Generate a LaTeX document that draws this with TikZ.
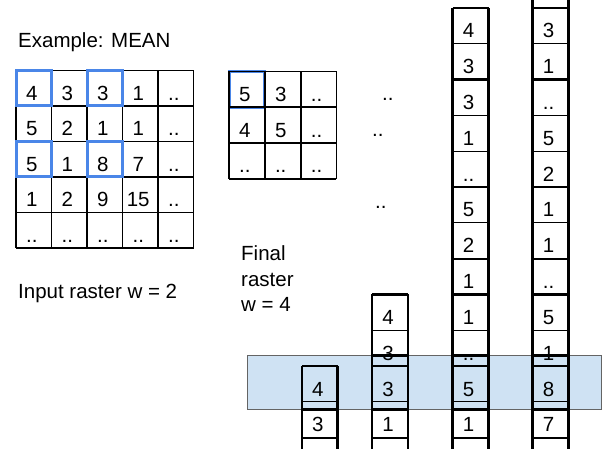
\documentclass[tikz,border=0pt]{standalone}
\usepackage{fontspec}
\setmainfont{Liberation Sans}
\definecolor{hl}{RGB}{74,134,232}
\definecolor{bandfill}{RGB}{207,226,243}
\definecolor{bandline}{RGB}{100,100,100}
\begin{document}
\begin{tikzpicture}[x=1pt,y=-1pt,
  txt/.style={font=\fontsize{20.5}{24}\selectfont, inner sep=0pt, anchor=base},
  lbl/.style={txt, anchor=base west},
  gridline/.style={line width=1.8pt, black},
  vline/.style={line width=2.2pt, black},
  thickh/.style={line width=2.2pt, black},
  thinh/.style={line width=1pt, black},
  hlbox/.style={draw=hl, line width=3pt},
  bandbox/.style={fill=bandfill, draw=bandline, line width=0.8pt}]
\useasboundingbox (0,0) rectangle (605,449);

% labels
\node[lbl] (title) at (18,48) {Example: MEAN};
\node[lbl] (inlabel) at (18,298) {Input raster w = 2};
\node[lbl] (fin1) at (241,261) {Final};
\node[lbl] (fin2) at (241,286) {raster};
\node[lbl] (fin3) at (241,311) {w = 4};

% ---------- input raster 5x5 ----------
\foreach \i in {0,...,5} {
  \draw[gridline] (16+35.5*\i,70.5) -- (16+35.5*\i,248);
  \draw[gridline] (16,70.5+35.5*\i) -- (193.5,70.5+35.5*\i);
}
\foreach \r/\row in {0/{4,3,3,1,..},1/{5,2,1,1,..},2/{5,1,8,7,..},3/{1,2,9,15,..},4/{..,..,..,..,..}} {
  \foreach \v [count=\c from 0] in \row {
    \node[txt] (in-\r-\c) at (16+35.5*\c+15.75,70.5+35.5*\r+30) {\v};
  }
}
\foreach \r/\c in {0/0,0/2,2/0,2/2} {
  \draw[hlbox] (16+35.5*\c,70.5+35.5*\r) rectangle +(35.5,35.5);
}

% ---------- intermediate 3x3 ----------
\draw[hlbox] (229,71.5) rectangle +(35.8,35.8);
\foreach \i in {0,...,3} {
  \draw[gridline] (229+35.8*\i,71.5) -- (229+35.8*\i,178.9);
  \draw[gridline] (229,71.5+35.8*\i) -- (336.4,71.5+35.8*\i);
}
\foreach \r/\row in {0/{5,3,..},1/{4,5,..},2/{..,..,..}} {
  \foreach \v [count=\c from 0] in \row {
    \node[txt] (mid-\r-\c) at (229+35.8*\c+15.9,71.5+35.8*\r+29.8) {\v};
  }
}
\node[lbl] (dots1) at (382,101) {..};
\node[lbl] (dots2) at (372,137) {..};
\node[lbl] (dots3) at (375,209) {..};

% ---------- highlight band ----------
\draw[bandbox] (247,355.5) rectangle (601,409.5);

% ---------- stacks ----------
% stack A (x 302..337.5), cells k=10,11, open below
\draw[vline] (302,366) -- (302,450);
\draw[vline] (337.5,366) -- (337.5,450);
\foreach \k in {10,12} \draw[thickh] (302,8+35.8*\k) -- (337.5,8+35.8*\k);
\draw[thinh] (302,8+35.8*11) -- (337.5,8+35.8*11);
\draw[thickh] (302,409.5) -- (337.5,409.5);
\foreach \v [count=\c from 10] in {4,3}
  \node[txt] (sa-\c) at (317.75,8+35.8*\c+30) {\v};

% stack B (x 372..408), cells k=8..11
\draw[vline] (372,294.4) -- (372,450);
\draw[vline] (408,294.4) -- (408,450);
\foreach \k in {8,10,12} \draw[thickh] (372,8+35.8*\k) -- (408,8+35.8*\k);
\foreach \k in {9,11} \draw[thinh] (372,8+35.8*\k) -- (408,8+35.8*\k);
\draw[thickh] (372,355.5) -- (408,355.5);
\draw[thickh] (372,409.5) -- (408,409.5);
\foreach \v [count=\c from 8] in {4,3,3,1}
  \node[txt] (sb-\c) at (388,8+35.8*\c+30) {\v};

% stack C (x 452.5..488.5), cells k=0..11
\draw[vline] (452.5,8) -- (452.5,450);
\draw[vline] (488.5,8) -- (488.5,450);
\foreach \k in {0,2,5,7,8,10,12} \draw[thickh] (452.5,8+35.8*\k) -- (488.5,8+35.8*\k);
\foreach \k in {1,3,4,6,9,11} \draw[thinh] (452.5,8+35.8*\k) -- (488.5,8+35.8*\k);
\draw[thickh] (452.5,355.5) -- (488.5,355.5);
\draw[thickh] (452.5,409.5) -- (488.5,409.5);
\foreach \v [count=\c from 0] in {4,3,3,1,..,5,2,1,1,..,5,1}
  \node[txt] (sc-\c) at (468.5,8+35.8*\c+30) {\v};

% stack D (x 532.5..568.5), cells k=0..11, continues above
\draw[vline] (532.5,-2) -- (532.5,450);
\draw[vline] (568.5,-2) -- (568.5,450);
\foreach \k in {0,2,5,7,8,10,12} \draw[thickh] (532.5,8+35.8*\k) -- (568.5,8+35.8*\k);
\foreach \k in {1,3,4,6,9,11} \draw[thinh] (532.5,8+35.8*\k) -- (568.5,8+35.8*\k);
\draw[thickh] (532.5,355.5) -- (568.5,355.5);
\draw[thickh] (532.5,409.5) -- (568.5,409.5);
\foreach \v [count=\c from 0] in {3,1,..,5,2,1,1,..,5,1,8,7}
  \node[txt] (sd-\c) at (548.5,8+35.8*\c+30) {\v};
\end{tikzpicture}
\end{document}
